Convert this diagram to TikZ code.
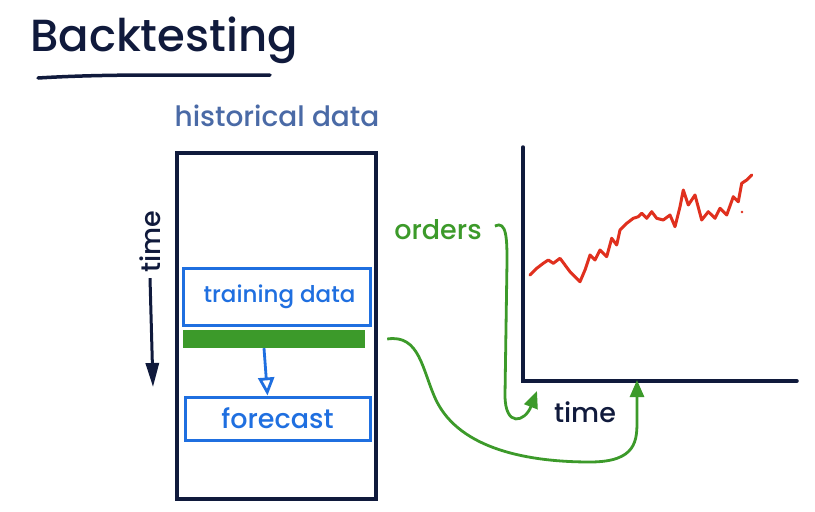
\documentclass[tikz,border=0pt]{standalone}
\usepackage{fontspec}
\setmainfont{Poppins}[UprightFont=* Medium]
\usepackage{tikz}
\usetikzlibrary{arrows.meta,positioning,calc}
\definecolor{ink}{HTML}{101A3C}
\definecolor{accent}{HTML}{1F6FE0}
\definecolor{ok}{HTML}{3C9A2A}
\definecolor{bad}{HTML}{E0301E}
\definecolor{slate}{HTML}{4A6AA6}
\tikzset{
  frame/.style={draw=ink,line width=3.5pt,minimum width=199pt,minimum height=346pt,inner sep=0pt},
  bluebox/.style={draw=accent,line width=3pt,text=accent,inner sep=0pt},
  bar/.style={fill=ok,inner sep=0pt,minimum width=182pt,minimum height=18pt},
  flow/.style={-{Triangle[length=24pt,width=13pt]},line width=3pt,draw=ink},
  bflow/.style={-{Triangle[open,length=18pt,width=16pt]},line width=2.8pt,draw=accent},
  gflow/.style={-{Triangle[length=17pt,width=14pt]},line width=2.8pt,draw=ok},
  axis/.style={draw=ink,line width=3.5pt,line cap=round},
  lbl/.style={inner sep=1pt}
}
\begin{document}
\begin{tikzpicture}[x=1pt,y=-1pt]
  \useasboundingbox[fill=white] (0,0) rectangle (815,512);
  % title
  \node[lbl,text=ink,font=\fontsize{45}{50}\selectfont] (title) at (164,40) {Backtesting};
  \draw[ink,line width=3.5pt,line cap=round] (38,78) .. controls (120,73) and (200,76) .. (270,75);
  % history column
  \node[lbl,text=slate,font=\fontsize{28}{32}\selectfont] (hist) at (277,116) {historical data};
  \node[frame] (col) at (276.5,326) {};
  \node[bluebox,minimum width=187pt,minimum height=57pt,font=\fontsize{23}{27}\selectfont] (train) at (276.5,296.5) {~training data};
  \node[bar] (cut) at (274,339) {};
  \node[bluebox,minimum width=185pt,minimum height=43pt,font=\fontsize{27}{31}\selectfont] (fore) at (277.5,418.5) {forecast};
  \draw[bflow] ([xshift=-10pt]cut.south) -- ([xshift=-10pt]fore.north);
  % time direction
  \node[lbl,text=ink,rotate=90,font=\fontsize{27}{31}\selectfont] (tlab) at (150,242) {time};
  \coordinate (tend) at (153,387);
  \draw[flow] ([yshift=-4pt]tlab.west) -- (tend);
  % chart
  \coordinate (ytop) at (523,147);
  \coordinate (orig) at (523,381);
  \coordinate (xend) at (797,381);
  \draw[axis] (ytop) -- (orig) -- (xend);
  \node[lbl,text=ink,font=\fontsize{27}{31}\selectfont] (taxis) at (585,412) {time};
  \draw[bad,line width=3pt,line join=round,line cap=round]
    (530,275) -- (536.7,268.3) -- (543.3,263.3) -- (548.3,260) -- (553.3,263.3) -- (560,258.3)
    -- (565,265) -- (570,271.7) -- (580,281.7) -- (585,270) -- (590,255) -- (595,260) -- (600,250)
    -- (606.7,256.7) -- (611.7,238.3) -- (616.7,245) -- (620,230) -- (626.7,223.3) -- (633.3,218.3)
    -- (638.3,216.7) -- (641.7,213.3) -- (646.7,218.3) -- (651.7,211.7) -- (656.7,218.3) -- (663.3,220)
    -- (670,215) -- (675,226.7) -- (680,206.7) -- (683.3,190) -- (688.3,205) -- (695,195) -- (701.7,220)
    -- (708.3,211.7) -- (715,218.3) -- (720,208.3) -- (726.7,215) -- (733.3,196.7) -- (738.3,201.7)
    -- (741.7,183.3) -- (746.7,180) -- (751.7,175);
  \fill[bad] (742,212) circle (1.4pt);
  % orders
  \node[lbl,text=ok,font=\fontsize{27}{31}\selectfont] (orders) at (438,230) {orders};
  \coordinate (o1) at (537,391);
  \coordinate (o2) at (637,380);
  \draw[gflow] ([xshift=12pt,yshift=4pt]orders.east) .. controls ++(12,-6) and (507,240) .. (507,262)
    -- (505,395) .. controls (505,428) and (525,422) .. (o1);
  \draw[gflow] ([xshift=22pt]cut.east) .. controls (420,334) and (422,370) .. (436,400)
    .. controls (460,450) and (530,462) .. (590,462)
    .. controls (637,462) and (637,440) .. (637,420) -- (o2);
\end{tikzpicture}
\end{document}
